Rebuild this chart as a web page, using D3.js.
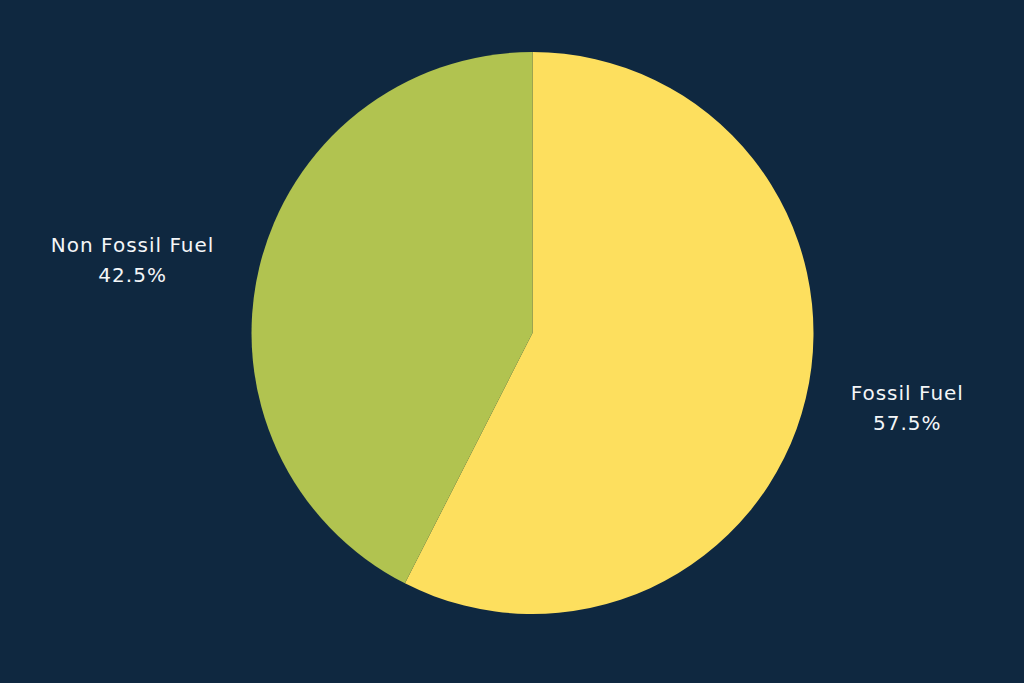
<!DOCTYPE html>
<html>
<head>
<meta charset="utf-8">
<script src="https://cdn.jsdelivr.net/npm/d3@7"></script>
<style>
  html, body { margin: 0; padding: 0; background: #0f2840; }
  svg { display: block; }
</style>
</head>
<body>
<svg id="chart" width="1024" height="683"></svg>
<script>
// data
var categories = ["Fossil Fuel", "Non Fossil Fuel"];
var shares = [57.5, 42.5];
var colors = ["#fddf5e", "#b1c350"];

var width = 1024, height = 683;
var cx = 532.5, cy = 333, radius = 281;

var svg = d3.select("#chart");
svg.append("rect").attr("width", width).attr("height", height).attr("fill", "#0f2840");

var pie = d3.pie().sort(null).value(function(d){ return d; });
var arc = d3.arc().innerRadius(0).outerRadius(radius);
var arcs = pie(shares);

var g = svg.append("g").attr("transform", "translate(" + cx + "," + cy + ")");
g.selectAll("path")
  .data(arcs).enter()
  .append("path")
  .attr("d", arc)
  .attr("fill", function(d, i){ return colors[i]; });

// labels : inner edge of the text block sits just outside the pie, at the slice middle angle
var labelArc = d3.arc().innerRadius(radius * 1.135).outerRadius(radius * 1.135);
var lab = g.selectAll(".lbl")
  .data(arcs).enter()
  .append("text")
  .attr("class", "lbl")
  .attr("text-anchor", "middle")
  .attr("fill", "#f4f6f8")
  .style("font-family", "'DejaVu Sans', sans-serif")
  .style("font-size", "20px")
  .style("letter-spacing", "1px");
lab.append("tspan").attr("class", "name").attr("x", 0).attr("y", -7).text(function(d, i){ return categories[i]; });
lab.append("tspan").attr("x", 0).attr("y", 23).text(function(d){ return d.value + "%"; });

lab.attr("transform", function(d){
  var c = labelArc.centroid(d);
  var w = d3.select(this).select(".name").node().getComputedTextLength();
  var side = c[0] < 0 ? -1 : 1;
  var x = c[0] + side * (8 + w / 2);
  return "translate(" + x + "," + c[1] + ")";
});
</script>
</body>
</html>
